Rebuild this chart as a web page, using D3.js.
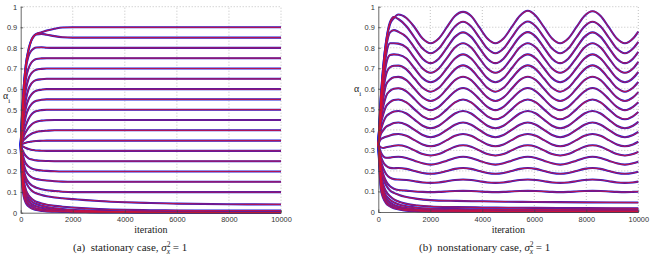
<!DOCTYPE html>
<html>
<head>
<meta charset="utf-8">
<script src="https://cdnjs.cloudflare.com/ajax/libs/d3/7.8.5/d3.min.js"></script>
<style>
  body { margin: 0; background: #fff; }
  svg { display: block; }
</style>
</head>
<body>
<svg id="chart" width="655" height="259"></svg>
<script>
// iteration grids the curves were read at
var xsA = [0, 50, 100, 150, 200, 300, 400, 500, 600, 800, 1000, 1300, 1600, 2000, 2500, 3000, 4000, 5000, 6000, 8000, 10000];
var xsB = [0, 100, 200, 300, 450, 600, 770, 1081, 1393, 1704, 2015, 2326, 2638, 2949, 3260, 3571, 3883, 4194, 4505, 4816, 5128, 5439, 5750, 6061, 6373, 6684, 6995, 7306, 7618, 7929, 8240, 8551, 8863, 9174, 9485, 9796, 10000];
var xsC = [0, 100, 200, 300, 450, 600, 800, 1000, 1500, 2000, 3000, 4000, 5000, 6000, 8000, 10000];

var xTicks = [0, 2000, 4000, 6000, 8000, 10000];
var yTicks = [0, 0.1, 0.2, 0.3, 0.4, 0.5, 0.6, 0.7, 0.8, 0.9, 1];

// (a) stationary case, alpha_i per iteration (on xsA)
var a90 = [.33, .47, .58, .66, .72, .79, .835, .858, .868, .876, .884, .893, .899, .9, .9, .9, .9, .9, .9, .9, .9];
var a85 = [.33, .47, .58, .66, .72, .79, .833, .855, .865, .868, .864, .857, .852, .85, .85, .85, .85, .85, .85, .85, .85];
var a80 = [.33, .46, .56, .64, .70, .76, .785, .797, .802, .803, .801, .8, .8, .8, .8, .8, .8, .8, .8, .8, .8];
var a75 = [.33, .44, .53, .60, .65, .70, .727, .74, .746, .749, .75, .75, .75, .75, .75, .75, .75, .75, .75, .75, .75];
var a70 = [.33, .42, .50, .56, .60, .65, .675, .688, .694, .698, .7, .7, .7, .7, .7, .7, .7, .7, .7, .7, .7];
var a65 = [.33, .40, .46, .51, .55, .60, .625, .638, .644, .648, .65, .65, .65, .65, .65, .65, .65, .65, .65, .65, .65];
var a60 = [.33, .39, .44, .48, .51, .55, .572, .585, .592, .597, .6, .6, .6, .6, .6, .6, .6, .6, .6, .6, .6];
var a55 = [.33, .37, .41, .44, .47, .505, .525, .537, .543, .548, .55, .55, .55, .55, .55, .55, .55, .55, .55, .55, .55];
var a50 = [.33, .36, .385, .405, .425, .455, .475, .487, .493, .498, .5, .5, .5, .5, .5, .5, .5, .5, .5, .5, .5];
var a45 = [.33, .35, .365, .38, .392, .412, .426, .436, .442, .447, .449, .45, .45, .45, .45, .45, .45, .45, .45, .45, .45];
var a40 = [.33, .34, .35, .357, .363, .374, .382, .388, .392, .396, .398, .4, .4, .4, .4, .4, .4, .4, .4, .4, .4];
var a35 = [.33, .333, .336, .338, .34, .343, .345, .347, .348, .349, .35, .35, .35, .35, .35, .35, .35, .35, .35, .35, .35];
var a30 = [.33, .325, .321, .317, .314, .309, .306, .304, .302, .301, .3, .3, .3, .3, .3, .3, .3, .3, .3, .3, .3];
var a25 = [.33, .31, .295, .283, .275, .264, .259, .256, .254, .252, .251, .25, .25, .25, .25, .25, .25, .25, .25, .25, .25];
var a20 = [.33, .295, .27, .25, .238, .224, .216, .211, .208, .205, .203, .201, .2, .2, .2, .2, .2, .2, .2, .2, .2];
var a15 = [.33, .28, .245, .22, .203, .185, .174, .167, .163, .159, .156, .153, .151, .15, .15, .15, .15, .15, .15, .15, .15];
var a10 = [.33, .265, .22, .19, .17, .148, .135, .127, .121, .114, .109, .105, .102, .1, .1, .1, .1, .1, .1, .1, .1];
var a04 = [.33, .25, .2, .17, .15, .125, .11, .1, .094, .086, .08, .074, .07, .066, .061, .057, .051, .047, .044, .041, .04];
var a01 = [.33, .23, .17, .135, .11, .085, .07, .06, .053, .045, .039, .033, .029, .025, .021, .018, .014, .012, .011, .01, .01];
var a00a = [.33, .21, .15, .115, .093, .07, .057, .048, .042, .034, .028, .022, .018, .014, .011, .009, .006, .004, .003, .002, .002];
var a00b = [.33, .19, .13, .097, .077, .056, .044, .036, .031, .024, .019, .015, .012, .009, .007, .005, .003, .002, .002, .001, .001];
var a00c = [.33, .17, .11, .08, .062, .043, .033, .026, .021, .015, .012, .009, .007, .005, .004, .003, .002, .001, .001, 0, 0];
var a00d = [.33, .15, .09, .063, .047, .031, .022, .017, .013, .009, .006, .005, .004, .003, .002, .001, .001, 0, 0, 0, 0];

// (b) nonstationary case (on xsB)
var n90 = [.33, .56, .72, .83, .915, .945, .962, .945, .9, .845, .822, .845, .9, .955, .975, .955, .9, .845, .822, .845, .9, .955, .98, .955, .9, .845, .822, .845, .9, .955, .978, .955, .9, .845, .822, .845, .879];
var n85 = [.33, .56, .72, .83, .925, .95, .94, .905, .85, .796, .773, .796, .85, .904, .927, .904, .85, .796, .773, .796, .85, .904, .928, .904, .85, .796, .773, .796, .85, .904, .927, .904, .85, .796, .773, .796, .829];
var n80 = [.33, .55, .70, .80, .875, .886, .878, .853, .8, .747, .725, .747, .8, .853, .875, .853, .8, .747, .725, .747, .8, .853, .876, .853, .8, .747, .725, .747, .8, .853, .875, .853, .8, .747, .725, .747, .78];
var n75 = [.33, .53, .67, .765, .822, .822, .82, .801, .75, .699, .678, .699, .75, .801, .822, .801, .75, .699, .678, .699, .75, .801, .822, .801, .75, .699, .678, .699, .75, .801, .822, .801, .75, .699, .678, .699, .731];
var n70 = [.33, .51, .63, .72, .765, .768, .766, .748, .7, .652, .632, .652, .7, .748, .768, .748, .7, .652, .632, .652, .7, .748, .768, .748, .7, .652, .632, .652, .7, .748, .768, .748, .7, .652, .632, .652, .682];
var n65 = [.33, .49, .60, .67, .705, .712, .713, .695, .65, .605, .586, .605, .65, .695, .714, .695, .65, .605, .586, .605, .65, .695, .714, .695, .65, .605, .586, .605, .65, .695, .714, .695, .65, .605, .586, .605, .633];
var n60 = [.33, .47, .56, .62, .645, .656, .658, .642, .6, .558, .541, .558, .6, .642, .659, .642, .6, .558, .541, .558, .6, .642, .659, .642, .6, .558, .541, .558, .6, .642, .659, .642, .6, .558, .541, .558, .584];
var n55 = [.33, .45, .52, .565, .59, .6, .603, .588, .55, .512, .496, .512, .55, .588, .604, .588, .55, .512, .496, .512, .55, .588, .604, .588, .55, .512, .496, .512, .55, .588, .604, .588, .55, .512, .496, .512, .535];
var n50 = [.33, .43, .48, .515, .535, .545, .548, .534, .5, .466, .452, .466, .5, .534, .548, .534, .5, .466, .452, .466, .5, .534, .548, .534, .5, .466, .452, .466, .5, .534, .548, .534, .5, .466, .452, .466, .487];
var n45 = [.33, .40, .44, .465, .48, .489, .492, .48, .45, .42, .408, .42, .45, .48, .492, .48, .45, .42, .408, .42, .45, .48, .492, .48, .45, .42, .408, .42, .45, .48, .492, .48, .45, .42, .408, .42, .439];
var n40 = [.33, .38, .40, .415, .425, .433, .436, .425, .4, .375, .364, .375, .4, .425, .436, .425, .4, .375, .364, .375, .4, .425, .436, .425, .4, .375, .364, .375, .4, .425, .436, .425, .4, .375, .364, .375, .39];
var n35 = [.33, .355, .362, .367, .373, .378, .38, .371, .35, .329, .32, .329, .35, .371, .38, .371, .35, .329, .32, .329, .35, .371, .38, .371, .35, .329, .32, .329, .35, .371, .38, .371, .35, .329, .32, .329, .342];
var n30 = [.33, .315, .312, .315, .319, .323, .325, .318, .3, .282, .275, .282, .3, .318, .325, .318, .3, .282, .275, .282, .3, .318, .325, .318, .3, .282, .275, .282, .3, .318, .325, .318, .3, .282, .275, .282, .293];
var n25 = [.33, .29, .27, .264, .265, .268, .269, .263, .25, .237, .231, .237, .25, .263, .269, .263, .25, .237, .231, .237, .25, .263, .269, .263, .25, .237, .231, .237, .25, .263, .269, .263, .25, .237, .231, .237, .245];
var n20 = [.33, .27, .24, .225, .215, .213, .214, .21, .2, .19, .186, .19, .2, .21, .214, .21, .2, .19, .186, .19, .2, .21, .214, .21, .2, .19, .186, .19, .2, .21, .214, .21, .2, .19, .186, .19, .196];
var n15 = [.33, .25, .21, .185, .167, .16, .158, .156, .15, .144, .142, .144, .15, .156, .158, .156, .15, .144, .142, .144, .15, .156, .158, .156, .15, .144, .142, .144, .15, .156, .158, .156, .15, .144, .142, .144, .148];
var n10 = [.33, .23, .18, .15, .125, .113, .107, .104, .1, .098, .097, .098, .1, .102, .103, .102, .1, .098, .097, .098, .1, .102, .103, .102, .1, .098, .097, .098, .1, .102, .103, .102, .1, .098, .097, .098, .099];
// (b) lowest curves (on xsC)
var n04 = [.33, .21, .16, .13, .105, .093, .083, .075, .064, .058, .054, .052, .05, .049, .047, .046];
var n02 = [.33, .19, .13, .1, .077, .062, .05, .042, .032, .027, .024, .022, .021, .02, .019, .018];
var n01 = [.33, .17, .11, .08, .06, .047, .037, .03, .021, .017, .014, .013, .012, .012, .011, .011];
var n00a = [.33, .15, .095, .066, .047, .035, .026, .02, .013, .01, .008, .007, .006, .006, .005, .005];
var n00b = [.33, .13, .08, .053, .036, .026, .018, .013, .008, .005, .004, .003, .002, .002, .002, .002];
var n00c = [.33, .11, .065, .042, .027, .018, .012, .008, .004, .002, .001, .001, 0, 0, 0, 0];

var panels = [
  {
    left: 20.7, right: 281, top: 6.7, bottom: 212.7,
    series: [a90, a85, a80, a75, a70, a65, a60, a55, a50, a45, a40, a35, a30, a25, a20, a15, a10, a04, a01, a00a, a00b, a00c, a00d].map(v => ({xs: xsA, v: v})),
    ylab: [3, 99], tag: "(a)", name: "stationary case,", capX: 73
  },
  {
    left: 378.3, right: 638.3, top: 6.7, bottom: 212,
    series: [n90, n85, n80, n75, n70, n65, n60, n55, n50, n45, n40, n35, n30, n25, n20, n15, n10].map(v => ({xs: xsB, v: v}))
      .concat([n04, n02, n01, n00a, n00b, n00c].map(v => ({xs: xsC, v: v}))),
    ylab: [354, 92], tag: "(b)", name: "nonstationary case,", capX: 419
  }
];

var svg = d3.select("#chart");
svg.append("rect").attr("width", 655).attr("height", 259).attr("fill", "#fff");

var serif = "Liberation Serif, Times New Roman, serif";

function drawPanel(p) {
  let x = d3.scaleLinear().domain([0, 10000]).range([p.left, p.right]);
  let y = d3.scaleLinear().domain([0, 1]).range([p.bottom, p.top]);
  let g = svg.append("g");

  // dotted grid
  g.append("g").selectAll("line")
    .data(xTicks.slice(1))
    .enter().append("line")
    .attr("x1", d => x(d)).attr("x2", d => x(d))
    .attr("y1", y(0)).attr("y2", y(1))
    .attr("stroke", "#a8a8a8").attr("stroke-width", 0.7).attr("stroke-dasharray", "1,2");
  g.append("g").selectAll("line")
    .data(yTicks.slice(1))
    .enter().append("line")
    .attr("x1", x(0)).attr("x2", x(10000))
    .attr("y1", d => y(d)).attr("y2", d => y(d))
    .attr("stroke", "#a8a8a8").attr("stroke-width", 0.7).attr("stroke-dasharray", "1,2");

  let line = s => d3.line()
    .x((d, i) => x(s.xs[i]))
    .y(d => y(d))
    .curve(d3.curveMonotoneX)(s.v);

  // simulated (blue) under theory (red)
  g.append("g").selectAll("path")
    .data(p.series)
    .enter().append("path")
    .attr("d", line)
    .attr("fill", "none").attr("stroke", "#2020d8").attr("stroke-width", 2.1);
  g.append("g").selectAll("path")
    .data(p.series)
    .enter().append("path")
    .attr("d", line)
    .attr("fill", "none").attr("stroke", "#e0102c").attr("stroke-width", 1.2).attr("stroke-opacity", 0.75);

  let xAxis = g.append("g")
    .attr("transform", `translate(0,${p.bottom})`)
    .call(d3.axisBottom(x).tickValues(xTicks).tickFormat(d => d).tickSize(-2.5).tickSizeOuter(0).tickPadding(4.5));
  let yAxis = g.append("g")
    .attr("transform", `translate(${p.left},0)`)
    .call(d3.axisLeft(y).tickValues(yTicks).tickFormat(d => d).tickSize(-2.5).tickSizeOuter(0).tickPadding(3.5));
  [xAxis, yAxis].forEach(a => {
    a.attr("font-family", "Liberation Sans, Arial, sans-serif").attr("font-size", 7.4);
    a.selectAll("text").attr("fill", "#333");
    a.selectAll("line, path").attr("stroke", "#444").attr("stroke-width", 0.8);
  });

  g.append("text")
    .attr("x", (p.left + p.right) / 2).attr("y", 233)
    .attr("text-anchor", "middle")
    .attr("font-family", serif).attr("font-size", 10)
    .attr("fill", "#222")
    .text("iteration");

  let yl = g.append("text")
    .attr("x", p.ylab[0]).attr("y", p.ylab[1])
    .attr("font-family", serif).attr("font-size", 10)
    .attr("fill", "#222");
  yl.append("tspan").text("α");
  yl.append("tspan").attr("dy", 3.5).attr("font-size", 7).text("i");

  let cap = g.append("text")
    .attr("x", p.capX).attr("y", 251)
    .attr("font-family", serif).attr("font-size", 11)
    .attr("fill", "#222")
    .attr("xml:space", "preserve");
  cap.append("tspan").text(p.tag + "  " + p.name + " ");
  cap.append("tspan").attr("font-style", "italic").text("σ");
  cap.append("tspan").attr("dy", -4.5).attr("font-size", 7.5).text("2");
  cap.append("tspan").attr("dx", -3.8).attr("dy", 7.5).attr("font-size", 7.5).attr("font-style", "italic").text("x");
  cap.append("tspan").attr("dy", -3).text(" = 1");
}

panels.forEach(drawPanel);
</script>
</body>
</html>
